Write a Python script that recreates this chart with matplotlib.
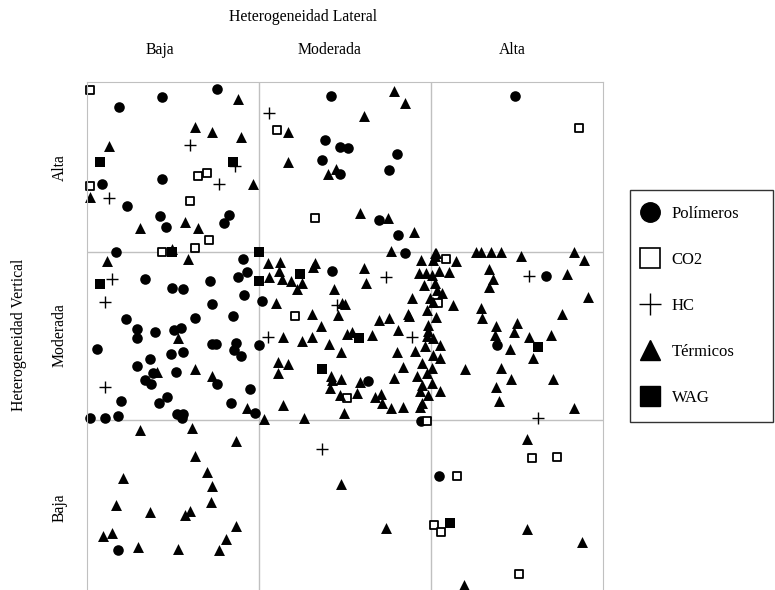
import matplotlib
matplotlib.use("Agg")
import matplotlib.pyplot as plt
from matplotlib.lines import Line2D

plt.rcParams['font.family'] = ['Liberation Serif', 'DejaVu Serif']

# escala arbitraria: x = heterogeneidad lateral (0-516), y = heterogeneidad vertical (0-508)
pol_x = [75, 130, 32, 75, 15, 40, 73, 79, 142, 137, 29,
         244, 238, 253, 261, 310, 235, 253, 302, 292, 311, 318, 428,
         156, 160, 151, 58, 123, 85, 96, 157, 125, 175, 39, 108, 146, 50, 50, 68, 87, 94,
         10, 125, 129, 149, 147, 154, 172, 84, 96, 63, 50, 66, 89, 130, 58, 64, 163, 80,
         72, 34, 144, 168, 3, 18, 31, 90, 96, 95,
         245, 281, 334, 459, 410, 31, 352]
pol_y = [493, 501, 483, 411, 406, 384, 374, 363, 375, 367, 338,
         494, 450, 443, 442, 436, 430, 416, 420, 370, 355, 337, 494,
         331, 318, 313, 311, 309, 302, 301, 295, 286, 289, 271, 272, 274, 261, 252, 258, 260, 262,
         241, 246, 246, 247, 240, 234, 245, 236, 238, 231, 224, 217, 218, 206, 210, 206, 201, 193,
         187, 189, 187, 177, 172, 172, 174, 176, 176, 172,
         319, 209, 169, 314, 245, 40, 114]

co2_x = [3, 111, 120, 3, 103, 122, 108, 75, 190, 228, 492, 359, 208, 260, 340, 351,
         445, 470, 370, 347, 354, 432]
co2_y = [500, 414, 417, 404, 389, 350, 342, 338, 460, 372, 462, 331, 274, 192, 169, 287,
         132, 133, 114, 65, 58, 16]

hc_x = [103, 148, 132, 22, 182, 25, 18, 18, 299, 250, 181, 325, 442, 451, 235]
hc_y = [445, 424, 406, 392, 477, 311, 288, 203, 313, 285, 253, 253, 314, 172, 141]

term_x = [151, 108, 125, 154, 22, 166, 3, 53, 98, 111, 85,
          307, 318, 277, 201, 201, 249, 241, 273, 301, 327, 304,
          349, 389, 394, 404, 414, 434, 487, 348,
          101, 20, 91, 70, 108, 125, 160,
          181, 193, 192, 228, 226, 277, 334, 182, 195, 204, 215, 210, 279, 247, 189, 255, 258,
          325, 225, 251, 292, 302, 321, 234, 311, 196, 215, 225, 260, 265, 285, 242, 254, 310,
          191, 201, 191, 316, 244, 254, 245, 243, 273, 307, 253, 270, 288, 294, 295, 304, 316,
          196, 257, 177, 217,
          346, 348, 369, 332, 339, 345, 352, 362, 337, 348, 350, 355, 343, 346, 366, 340, 322,
          349, 341, 341, 340, 346, 353, 338, 328, 346, 353, 335, 345, 340, 330, 335, 345, 333,
          341, 353, 335, 333,
          497, 402, 480, 406, 402, 501, 394, 395, 475, 409, 430, 427, 408, 442, 464, 423, 446,
          378, 414, 424, 466, 409, 412, 487,
          53, 105, 149, 108, 120, 36, 125, 29, 124, 63, 103, 98, 149, 16, 25, 139, 51, 91, 132,
          254, 299, 440, 440, 495, 377]
term_y = [491, 463, 458, 453, 444, 406, 393, 362, 368, 362, 341,
          499, 487, 474, 458, 428, 421, 416, 377, 372, 358, 339,
          337, 338, 338, 338, 338, 334, 338, 337,
          331, 329, 252, 218, 221, 214, 182,
          327, 328, 319, 327, 323, 322, 330, 313, 311, 309, 307, 301, 307, 301, 287, 287, 286,
          292, 276, 275, 270, 272, 276, 264, 260, 253, 249, 253, 256, 258, 255, 246, 238, 238,
          228, 226, 217, 223, 214, 211, 210, 202, 208, 212, 195, 197, 193, 196, 187, 182, 183,
          185, 177, 171, 172,
          330, 334, 329, 317, 317, 315, 319, 318, 305, 307, 300, 297, 292, 288, 285, 280, 274,
          273, 265, 259, 254, 252, 245, 244, 239, 235, 232, 227, 222, 217, 214, 205, 207, 199,
          195, 199, 187, 183,
          330, 321, 316, 311, 303, 293, 282, 272, 276, 264, 267, 258, 255, 253, 255, 241, 232,
          221, 222, 211, 211, 203, 189, 182,
          160, 162, 149, 134, 118, 112, 104, 85, 88, 78, 79, 75, 64, 54, 57, 51, 43, 41, 40,
          106, 62, 151, 61, 48, 5]

wag_x = [13, 146, 85, 172, 13, 172, 213, 272, 235, 451, 363]
wag_y = [428, 428, 338, 338, 306, 309, 316, 252, 221, 243, 67]

niveles = ['Baja', 'Moderada', 'Alta']
grilla = [172, 344]
grilla_v = [170, 338]

fig = plt.figure(figsize=(7.75, 5.9), dpi=100)
ax = fig.add_axes([87 / 775, 0.0, 516 / 775, 508 / 590])
ax.set_xlim(0, 516)
ax.set_ylim(0, 508)

for g in grilla:
    ax.axvline(g, color='#c0c0c0', lw=1, zorder=0)
for g in grilla_v:
    ax.axhline(g, color='#c0c0c0', lw=1, zorder=0)
for s in ax.spines.values():
    s.set_color('#c0c0c0')
ax.spines['bottom'].set_visible(False)
ax.set_xticks([])
ax.set_yticks([])

ax.scatter(pol_x, pol_y, marker='o', s=58, color='black', lw=0, clip_on=False)
ax.scatter(co2_x, co2_y, marker='s', s=40, facecolor='white', edgecolor='black', lw=1.3, clip_on=False)
ax.scatter(hc_x, hc_y, marker='+', s=70, color='black', lw=1.0, clip_on=False)
ax.scatter(term_x, term_y, marker='^', s=62, color='black', lw=0, clip_on=False)
ax.scatter(wag_x, wag_y, marker='s', s=58, color='black', lw=0, clip_on=False)

fs = 11.3
fig.text(303 / 775, 1 - 17 / 590, 'Heterogeneidad Lateral', ha='center', va='center', fontsize=fs)
for lab, px in zip(niveles, [160, 330, 512]):
    fig.text(px / 775, 1 - 50 / 590, lab, ha='center', va='center', fontsize=fs)
for lab, py in zip(niveles, [508, 335, 168]):
    fig.text(60 / 775, 1 - py / 590, lab, ha='center', va='center', fontsize=fs, rotation=90)
fig.text(19 / 775, 1 - 335 / 590, 'Heterogeneidad Vertical', ha='center', va='center',
         fontsize=fs, rotation=90)

handles = [
    Line2D([], [], ls='', marker='o', ms=14, color='black'),
    Line2D([], [], ls='', marker='s', ms=14, mfc='white', mec='black', mew=1.2),
    Line2D([], [], ls='', marker='+', ms=16, color='black', mew=1.0),
    Line2D([], [], ls='', marker='^', ms=15, color='black'),
    Line2D([], [], ls='', marker='s', ms=14, color='black'),
]
labels = ['Polímeros', 'CO2', 'HC', 'Térmicos', 'WAG']
leg = fig.legend(handles, labels, loc='upper left',
                 bbox_to_anchor=(630 / 775, 1 - 190 / 590, 143 / 775, 0.0), mode='expand',
                 fontsize=12, frameon=True, fancybox=False, edgecolor='black',
                 labelspacing=1.8, handlelength=0.5, handletextpad=1.05, borderpad=0.95,
                 borderaxespad=0)
leg.get_frame().set_linewidth(1.0)

fig.savefig('out.png', dpi=100)
